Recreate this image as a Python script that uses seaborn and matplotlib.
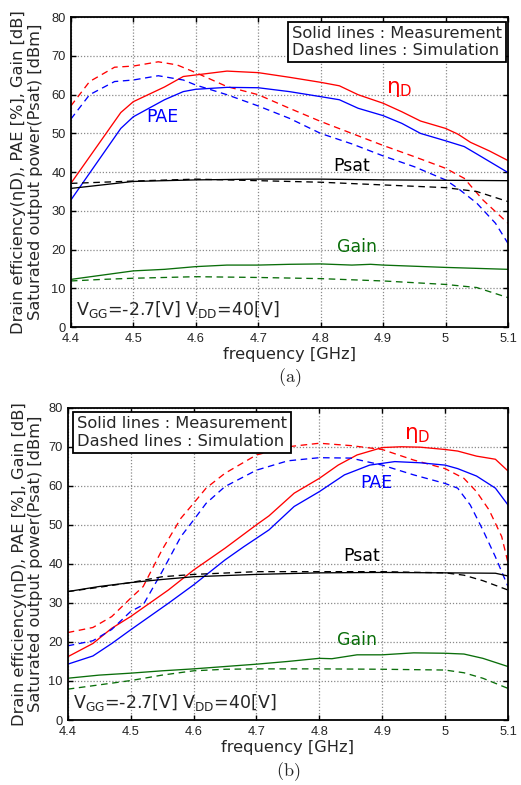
import numpy as np
import pandas as pd
import matplotlib
matplotlib.use("Agg")
import matplotlib.pyplot as plt
import seaborn as sns

# ---------------- data: panel (a) ----------------
A_ED_MEAS_F = [4.40, 4.48, 4.50, 4.55, 4.58, 4.60, 4.65, 4.70, 4.75, 4.80, 4.83, 4.86, 4.90, 4.93, 4.96, 5.00, 5.02, 5.04, 5.07, 5.10]
A_ED_MEAS = [37.1, 55.4, 58.2, 62.0, 64.7, 65.1, 66.1, 65.7, 64.5, 63.2, 62.3, 60.0, 57.8, 55.6, 53.2, 51.3, 49.8, 47.7, 45.5, 43.0]
A_PAE_MEAS_F = [4.40, 4.48, 4.50, 4.55, 4.58, 4.60, 4.65, 4.70, 4.75, 4.80, 4.83, 4.86, 4.90, 4.93, 4.96, 5.00, 5.03, 5.05, 5.10]
A_PAE_MEAS = [32.8, 51.3, 54.3, 58.7, 60.8, 61.4, 61.9, 61.8, 60.8, 59.5, 58.7, 56.5, 54.6, 52.6, 50.0, 48.1, 46.6, 44.7, 39.9]
A_ED_SIM_F = [4.40, 4.43, 4.47, 4.50, 4.54, 4.57, 4.60, 4.65, 4.70, 4.75, 4.80, 4.85, 4.90, 4.95, 5.00, 5.03, 5.06, 5.10]
A_ED_SIM = [57.1, 63.4, 67.1, 67.4, 68.5, 67.7, 65.7, 62.1, 60.0, 56.5, 53.1, 50.0, 46.9, 44.0, 41.0, 38.4, 32.8, 26.8]
A_PAE_SIM_F = [4.40, 4.43, 4.47, 4.50, 4.54, 4.58, 4.60, 4.65, 4.70, 4.75, 4.80, 4.85, 4.90, 4.95, 5.00, 5.02, 5.05, 5.08, 5.10]
A_PAE_SIM = [53.7, 60.0, 63.4, 63.8, 64.9, 63.8, 62.5, 60.0, 57.1, 53.9, 50.0, 47.3, 44.2, 41.4, 38.0, 35.8, 32.0, 26.8, 21.6]
A_PSAT_MEAS_F = [4.40, 4.45, 4.50, 4.60, 4.70, 4.80, 4.90, 5.00, 5.10]
A_PSAT_MEAS = [35.8, 36.7, 37.6, 38.0, 38.2, 38.2, 38.0, 37.9, 37.8]
A_PSAT_SIM_F = [4.40, 4.50, 4.60, 4.70, 4.80, 4.90, 5.00, 5.05, 5.10]
A_PSAT_SIM = [37.1, 37.7, 38.2, 37.8, 37.4, 36.7, 36.0, 35.0, 32.4]
A_GAIN_MEAS_F = [4.40, 4.45, 4.50, 4.55, 4.60, 4.65, 4.70, 4.75, 4.80, 4.85, 4.88, 4.90, 5.00, 5.10]
A_GAIN_MEAS = [12.3, 13.4, 14.5, 14.9, 15.6, 16.0, 16.0, 16.2, 16.3, 16.0, 16.2, 16.0, 15.4, 14.9]
A_GAIN_SIM_F = [4.40, 4.45, 4.50, 4.60, 4.70, 4.80, 4.90, 5.00, 5.05, 5.10]
A_GAIN_SIM = [11.9, 12.3, 12.6, 13.0, 12.8, 12.5, 11.9, 11.0, 10.2, 7.6]

# ---------------- data: panel (b) ----------------
B_ED_MEAS_F = [4.40, 4.44, 4.47, 4.50, 4.53, 4.56, 4.60, 4.65, 4.70, 4.72, 4.76, 4.80, 4.83, 4.86, 4.90, 4.93, 4.96, 5.00, 5.02, 5.05, 5.08, 5.10]
B_ED_MEAS = [16.2, 19.6, 23.5, 26.5, 29.9, 33.3, 38.4, 44.0, 50.0, 52.3, 58.1, 61.9, 65.3, 67.9, 69.8, 70.0, 69.9, 69.3, 68.9, 67.6, 66.8, 63.8]
B_PAE_MEAS_F = [4.40, 4.44, 4.47, 4.50, 4.53, 4.56, 4.60, 4.65, 4.68, 4.72, 4.76, 4.80, 4.84, 4.88, 4.92, 4.96, 5.00, 5.02, 5.05, 5.08, 5.10]
B_PAE_MEAS = [14.3, 16.4, 19.6, 23.1, 26.5, 29.9, 34.6, 41.0, 44.4, 48.7, 54.7, 58.5, 62.8, 65.3, 66.2, 65.9, 65.3, 64.4, 62.5, 59.4, 55.1]
B_ED_SIM_F = [4.40, 4.44, 4.47, 4.50, 4.52, 4.55, 4.58, 4.60, 4.62, 4.65, 4.70, 4.75, 4.80, 4.85, 4.90, 4.95, 5.00, 5.03, 5.05, 5.07, 5.09, 5.10]
B_ED_SIM = [22.4, 23.7, 26.5, 31.2, 34.2, 43.6, 51.7, 55.5, 59.4, 63.2, 67.9, 70.0, 70.9, 70.3, 69.3, 66.6, 64.4, 61.9, 58.5, 53.8, 47.0, 40.3]
B_PAE_SIM_F = [4.40, 4.44, 4.47, 4.50, 4.52, 4.55, 4.58, 4.60, 4.62, 4.65, 4.70, 4.75, 4.80, 4.85, 4.90, 4.95, 5.00, 5.02, 5.04, 5.06, 5.08, 5.10]
B_PAE_SIM = [19.0, 20.3, 23.2, 27.8, 29.5, 38.0, 47.0, 51.2, 55.5, 59.8, 64.0, 66.4, 67.2, 67.1, 65.3, 62.8, 60.6, 59.4, 55.1, 48.7, 41.8, 34.2]
B_PSAT_MEAS_F = [4.40, 4.45, 4.50, 4.55, 4.60, 4.70, 4.80, 4.90, 5.00, 5.08, 5.10]
B_PSAT_MEAS = [32.9, 34.2, 35.2, 36.0, 36.7, 37.3, 37.7, 37.8, 37.7, 37.6, 36.9]
B_PSAT_SIM_F = [4.40, 4.45, 4.50, 4.55, 4.60, 4.70, 4.80, 4.90, 5.00, 5.03, 5.06, 5.10]
B_PSAT_SIM = [32.9, 34.0, 35.2, 36.7, 37.3, 38.0, 38.0, 38.0, 37.7, 37.1, 35.7, 33.3]
B_GAIN_MEAS_F = [4.40, 4.45, 4.50, 4.55, 4.60, 4.65, 4.70, 4.75, 4.80, 4.82, 4.86, 4.90, 4.95, 5.00, 5.03, 5.06, 5.10]
B_GAIN_MEAS = [10.7, 11.5, 12.0, 12.6, 13.1, 13.7, 14.3, 15.0, 15.8, 15.7, 16.7, 16.7, 17.2, 17.1, 16.9, 15.8, 13.7]
B_GAIN_SIM_F = [4.40, 4.45, 4.50, 4.55, 4.60, 4.65, 4.70, 4.80, 4.90, 5.00, 5.03, 5.06, 5.10]
B_GAIN_SIM = [7.9, 9.0, 10.1, 11.5, 12.6, 13.0, 13.1, 13.1, 13.0, 12.8, 12.1, 10.7, 8.1]

X_TICKS = [4.4, 4.5, 4.6, 4.7, 4.8, 4.9, 5.0, 5.1]
X_TICK_LABELS = ["4.4", "4.5", "4.6", "4.7", "4.8", "4.9", "5", "5.1"]
Y_TICKS = [0, 10, 20, 30, 40, 50, 60, 70, 80]
LEGEND_TEXT = "Solid lines : Measurement\nDashed lines : Simulation"
BIAS_TEXT = r"V$_\mathsf{GG}$=-2.7[V] V$_\mathsf{DD}$=40[V]"
YLABEL = "Drain efficiency(ηD), PAE [%], Gain [dB]\nSaturated output power(Psat) [dBm]"
XLABEL = "frequency [GHz]"

COLORS = {"ED": "#ff0000", "PAE": "#0000ff", "PSAT": "#000000", "GAIN": "#0a6e0a"}


def build(prefix):
    g = globals()
    rows = []
    for q in ["ED", "PAE", "PSAT", "GAIN"]:
        for kind, tag in [("meas", "MEAS"), ("sim", "SIM")]:
            fs = g[f"{prefix}_{q}_{tag}_F"]
            vs = g[f"{prefix}_{q}_{tag}"]
            for f, v in zip(fs, vs):
                rows.append({"freq": f, "val": v, "qty": q, "kind": kind})
    return pd.DataFrame(rows)


sns.set_theme(style="white")
plt.rcParams["font.family"] = ["DejaVu Sans"]
plt.rcParams["mathtext.fontset"] = "dejavusans"

fig = plt.figure(figsize=(5.21, 7.85), dpi=100)
ax_a = fig.add_axes([0.136, 0.5834, 0.839, 0.3946])
ax_b = fig.add_axes([0.130, 0.0828, 0.845, 0.3978])

annots = {
    "A": [("η$_\\mathsf{D}$", 4.905, 61.5, "ED", 15.5),
          ("PAE", 4.52, 54.3, "PAE", 12.5),
          ("Psat", 4.82, 41.6, "PSAT", 12.5),
          ("Gain", 4.826, 20.7, "GAIN", 12.5)],
    "B": [("η$_\\mathsf{D}$", 4.935, 73.0, "ED", 15.5),
          ("PAE", 4.865, 60.8, "PAE", 12.5),
          ("Psat", 4.838, 42.0, "PSAT", 12.5),
          ("Gain", 4.828, 20.5, "GAIN", 12.5)],
}

for prefix, ax, cap in [("A", ax_a, r"$\mathrm{(a)}$"), ("B", ax_b, r"$\mathrm{(b)}$")]:
    df = build(prefix)
    sns.lineplot(data=df, x="freq", y="val", hue="qty", style="kind",
                 palette=COLORS, dashes={"meas": "", "sim": (5, 3.5)},
                 estimator=None, sort=True, linewidth=0.95, legend=False, ax=ax)
    ax.set_xlim(4.4, 5.1)
    ax.set_ylim(0, 80)
    ax.set_xticks(X_TICKS)
    ax.set_xticklabels(X_TICK_LABELS, family="Liberation Sans", fontsize=9.3)
    ax.set_yticks(Y_TICKS)
    ax.set_yticklabels([str(t) for t in Y_TICKS], family="Liberation Sans", fontsize=9.3)
    ax.tick_params(direction="in", length=3.5, width=1.0, color="black",
                   top=True, right=True, bottom=True, left=True)
    ax.tick_params(axis="x", pad=4.5)
    ax.tick_params(axis="y", pad=3.5)
    ax.grid(True, linestyle=(0, (1, 1.5)), color="#8a8a8a", linewidth=0.9)
    for s in ax.spines.values():
        s.set_color("black")
        s.set_linewidth(1.3)
    ax.set_xlabel(XLABEL, fontsize=11.7, labelpad=1)
    ax.set_ylabel(YLABEL, fontsize=11.7, linespacing=1.15)
    ax.yaxis.label.set_va("center")
    for txt, fx, fy, q, fs in annots[prefix]:
        ax.text(fx, fy, txt, color=COLORS[q], fontsize=fs, ha="left", va="center")
    ax.text(0.012, 0.055, BIAS_TEXT, transform=ax.transAxes, fontsize=12.5,
            ha="left", va="center")
    ax.text(0.5, -0.128, cap, transform=ax.transAxes, fontsize=13,
            ha="center", va="top", math_fontfamily="cm")

# y label positions (center of two-line block)
ax_a.yaxis.set_label_coords(-0.0995, 0.5)
ax_b.yaxis.set_label_coords(-0.0915, 0.5)

# legend boxes
box = dict(boxstyle="square,pad=0.25", fc="white", ec="black", lw=1.3)
ax_a.text(0.505, 0.972, LEGEND_TEXT, transform=ax_a.transAxes, fontsize=11.7,
          ha="left", va="top", linespacing=1.2, bbox=box, zorder=5)
ax_b.text(0.022, 0.972, LEGEND_TEXT, transform=ax_b.transAxes, fontsize=11.7,
          ha="left", va="top", linespacing=1.2, bbox=box, zorder=5)

fig.savefig("out.png", dpi=100)
